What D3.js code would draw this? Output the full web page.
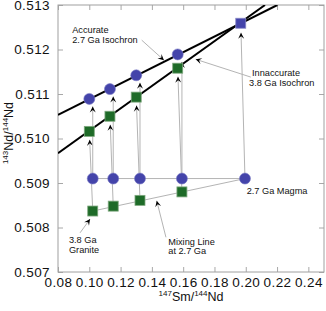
<!DOCTYPE html>
<html>
<head>
<meta charset="utf-8">
<script src="https://cdn.jsdelivr.net/npm/d3@7"></script>
<style>
  body { margin: 0; background: #fff; }
  svg { display: block; font-family: 'Liberation Sans', Arial, sans-serif; }
</style>
</head>
<body>
<div id="wrapper"></div>
<script>
// today's samples (measured now)
const smToday = [0.1000, 0.1132, 0.1300, 0.1565]
const ndAccurate = [0.51089, 0.51111, 0.51142, 0.51189]      // 2.7 Ga magma fractions
const ndInaccurate = [0.51016, 0.51050, 0.51093, 0.51158]    // mixed samples
const magmaToday = { sm: 0.1968, nd: 0.51259 }

// compositions at 2.7 Ga
const smThen = [0.1022, 0.1153, 0.1324, 0.1592]
const ndMagmaThen = 0.50910
const ndMixThen = [0.50837, 0.50848, 0.50861, 0.50880]
const magmaThen = { sm: 0.1995, nd: 0.50910 }

// isochron end points
const iso27 = [{ sm: 0.08, nd: 0.51053 }, { sm: 0.2202, nd: 0.513 }]
const iso38 = [{ sm: 0.08, nd: 0.50967 }, { sm: 0.2123, nd: 0.513 }]

const xTicks = [0.08, 0.10, 0.12, 0.14, 0.16, 0.18, 0.20, 0.22, 0.24]
const yTicks = [0.507, 0.508, 0.509, 0.510, 0.511, 0.512, 0.513]

// labels: text lines, text anchor (data units), pointer from -> to (data units)
const notes = [
    { lines: ['Accurate', '2.7 Ga Isochron'], at: [0.0891, 0.51237], from: [0.1335, 0.51221], to: [0.1477, 0.51176] },
    { lines: ['Innaccurate', '3.8 Ga Isochron'], at: [0.2040, 0.51140], from: [0.2032, 0.51138], to: [0.1680, 0.51178] },
    { lines: ['2.7 Ga Magma'], at: [0.2006, 0.50875] },
    { lines: ['3.8 Ga', 'Granite'], at: [0.0870, 0.50765], from: [0.0941, 0.50788], to: [0.1005, 0.50819] },
    { lines: ['Mixing Line', 'at 2.7 Ga'], at: [0.1505, 0.50761], from: [0.1490, 0.50778], to: [0.1431, 0.50860] }
]

const dms = {
    width: 326,
    height: 311,
    margin: { top: 5, right: 2, bottom: 39, left: 58 }
}
dms.chartWidth = dms.width - dms.margin.left - dms.margin.right
dms.chartHeight = dms.height - dms.margin.top - dms.margin.bottom

const svg = d3.select('#wrapper')
    .append('svg')
    .attr('width', dms.width)
    .attr('height', dms.height)

const defs = svg.append('defs')
defs.append('marker')
    .attr('id', 'head')
    .attr('viewBox', '-7 -4 8 8')
    .attr('refX', 0)
    .attr('refY', 0)
    .attr('markerWidth', 8)
    .attr('markerHeight', 8)
    .attr('markerUnits', 'userSpaceOnUse')
    .attr('orient', 'auto')
    .append('path')
    .attr('d', 'M0,0 L-6,-3 L-3.5,0 L-6,3 Z')
    .attr('fill', '#000')
defs.append('clipPath')
    .attr('id', 'plotClip')
    .append('rect')
    .attr('width', dms.chartWidth)
    .attr('height', dms.chartHeight)

const bounds = svg.append('g')
    .attr('transform', `translate(${dms.margin.left},${dms.margin.top})`)

const xScale = d3.scaleLinear()
    .domain([0.08, 0.25])
    .range([0, dms.chartWidth])
const yScale = d3.scaleLinear()
    .domain([0.507, 0.513])
    .range([dms.chartHeight, 0])

// frame + ticks
const tickColor = '#a8a8a8'
const styleAxis = g => {
    g.select('.domain').remove()
    g.selectAll('.tick line').attr('stroke', tickColor)
    g.selectAll('.tick text')
        .attr('fill', '#111')
        .style('font-size', '13.5px')
        .style('letter-spacing', '0.4px')
}
bounds.append('g')
    .attr('transform', `translate(0,${dms.chartHeight})`)
    .call(d3.axisBottom(xScale).tickValues(xTicks).tickSizeInner(-5).tickSizeOuter(0)
        .tickPadding(5).tickFormat(d3.format('.2f')))
    .call(styleAxis)
bounds.append('g')
    .call(d3.axisTop(xScale).tickValues(xTicks).tickSizeInner(-5).tickSizeOuter(0).tickFormat(''))
    .call(styleAxis)
bounds.append('g')
    .call(d3.axisLeft(yScale).tickValues(yTicks).tickSizeInner(-5).tickSizeOuter(0)
        .tickPadding(8).tickFormat(d3.format('.3f')))
    .call(styleAxis)
bounds.append('g')
    .attr('transform', `translate(${dms.chartWidth},0)`)
    .call(d3.axisRight(yScale).tickValues(yTicks).tickSizeInner(-5).tickSizeOuter(0).tickFormat(''))
    .call(styleAxis)

bounds.append('rect')
    .attr('width', dms.chartWidth)
    .attr('height', dms.chartHeight)
    .attr('fill', 'none')
    .attr('stroke', '#a0a0a0')
    .attr('stroke-width', 1)

const plot = bounds.append('g').attr('clip-path', 'url(#plotClip)')

// arrow drawn from p0 towards p1, stopping 'gap' px short
const arrow = (g, p0, p1, gap) => {
    const x0 = xScale(p0[0]), y0 = yScale(p0[1])
    let x1 = xScale(p1[0]), y1 = yScale(p1[1])
    const len = Math.hypot(x1 - x0, y1 - y0)
    x1 -= (x1 - x0) / len * gap
    y1 -= (y1 - y0) / len * gap
    g.append('line')
        .attr('x1', x0).attr('y1', y0)
        .attr('x2', x1).attr('y2', y1)
        .attr('stroke', '#b4b4b4')
        .attr('stroke-width', 1)
        .attr('marker-end', 'url(#head)')
}

// gray guide lines at 2.7 Ga
const line = d3.line().x(d => xScale(d[0])).y(d => yScale(d[1]))
plot.append('path')
    .attr('d', line([[smThen[0], ndMagmaThen], [magmaThen.sm, magmaThen.nd]]))
    .attr('stroke', '#b4b4b4').attr('fill', 'none')
plot.append('path')
    .attr('d', line([[smThen[0], ndMixThen[0]], [magmaThen.sm, magmaThen.nd]]))
    .attr('stroke', '#b4b4b4').attr('fill', 'none')

// evolution arrows
const arrows = plot.append('g')
smThen.forEach((s, i) => {
    arrows.call(arrow, [s, ndMixThen[i]], [smToday[i], ndInaccurate[i]], 8.5)
    arrows.call(arrow, [s, ndMagmaThen], [s, ndAccurate[i]], 7.5)
})
arrows.call(arrow, [magmaThen.sm, magmaThen.nd], [magmaToday.sm, magmaToday.nd], 9.5)

// isochrons
plot.append('path')
    .attr('d', line(iso27.map(d => [d.sm, d.nd])))
    .attr('stroke', '#000').attr('stroke-width', 2).attr('fill', 'none')
plot.append('path')
    .attr('d', line(iso38.map(d => [d.sm, d.nd])))
    .attr('stroke', '#000').attr('stroke-width', 2).attr('fill', 'none')

// markers
const blue = '#4444aa'
const green = '#1e6b28'
const sq = 10
const drawSquares = (pts, fill, stroke) => {
    plot.append('g').selectAll('rect')
        .data(pts)
        .join('rect')
        .attr('x', d => xScale(d[0]) - sq / 2)
        .attr('y', d => yScale(d[1]) - sq / 2)
        .attr('width', sq)
        .attr('height', sq)
        .attr('fill', fill)
        .attr('stroke', stroke)
        .attr('stroke-width', 0.8)
}
const drawCircles = pts => {
    plot.append('g').selectAll('circle')
        .data(pts)
        .join('circle')
        .attr('cx', d => xScale(d[0]))
        .attr('cy', d => yScale(d[1]))
        .attr('r', 5.5)
        .attr('fill', blue)
        .attr('stroke', '#7b7bc4')
        .attr('stroke-width', 0.6)
}
drawSquares(smThen.map((s, i) => [s, ndMixThen[i]]), green, '#7ea87e')
drawSquares(smToday.map((s, i) => [s, ndInaccurate[i]]), green, '#7ea87e')
drawCircles(smThen.map(s => [s, ndMagmaThen]).concat([[magmaThen.sm, magmaThen.nd]]))
drawCircles(smToday.map((s, i) => [s, ndAccurate[i]]))
drawSquares([[magmaToday.sm, magmaToday.nd]], blue, '#8a8ac8')

// annotations, one text per line
const noteG = bounds.append('g')
notes.forEach(n => {
    if (n.from) noteG.call(arrow, n.from, n.to, 0)
    n.lines.forEach((l, i) => {
        noteG.append('text')
            .attr('x', xScale(n.at[0]) - (i === 1 && n.lines[0] === 'Innaccurate' ? 3 : 0))
            .attr('y', yScale(n.at[1]) + i * 9.6)
            .style('font-size', '9.2px')
            .attr('fill', '#111')
            .text(l)
    })
})

// axis titles
const xLabel = svg.append('text')
    .attr('x', dms.margin.left + dms.chartWidth / 2)
    .attr('y', 301)
    .attr('text-anchor', 'middle')
    .style('font-size', '12.5px')
    .attr('fill', '#111')
xLabel.append('tspan').attr('dy', -5).style('font-size', '8px').text('147')
xLabel.append('tspan').attr('dy', 5).text('Sm/')
xLabel.append('tspan').attr('dy', -5).style('font-size', '8px').text('144')
xLabel.append('tspan').attr('dy', 5).text('Nd')

const yLabel = svg.append('text')
    .attr('transform', 'translate(13,133) rotate(-90)')
    .attr('text-anchor', 'middle')
    .style('font-size', '12.5px')
    .attr('fill', '#111')
yLabel.append('tspan').attr('dy', -5).style('font-size', '8px').text('143')
yLabel.append('tspan').attr('dy', 5).text('Nd/')
yLabel.append('tspan').attr('dy', -5).style('font-size', '8px').text('144')
yLabel.append('tspan').attr('dy', 5).text('Nd')
</script>
</body>
</html>
